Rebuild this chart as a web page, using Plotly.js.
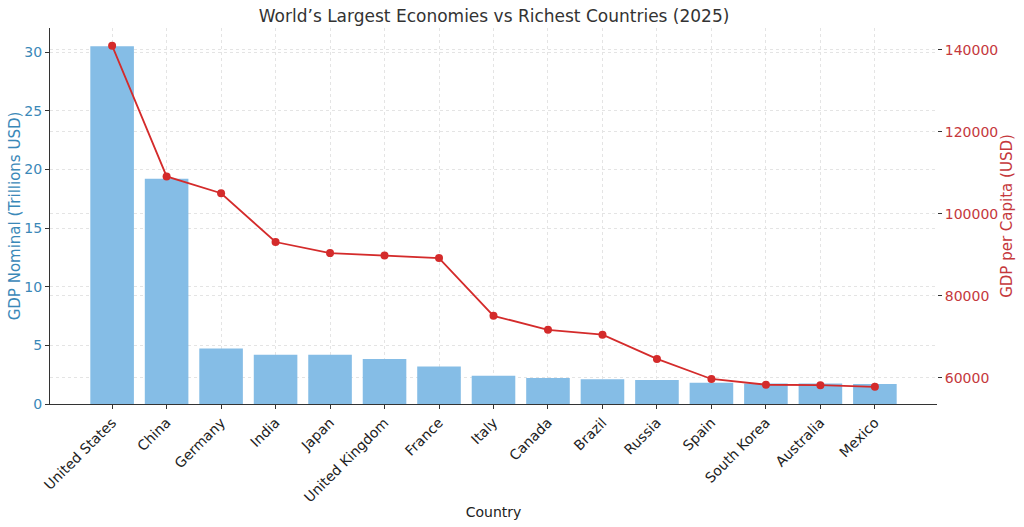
<!DOCTYPE html>
<html>
<head>
<meta charset="utf-8">
<script src="https://cdn.plot.ly/plotly-3.0.1.min.js"></script>
<style>
  body { margin: 0; background: #fff; }
  #chart { width: 1024px; height: 527px; }
</style>
</head>
<body>
<div id="chart"></div>
<script>
  // 2025 figures
  var countries = ["United States", "China", "Germany", "India", "Japan",
    "United Kingdom", "France", "Italy", "Canada", "Brazil", "Russia",
    "Spain", "South Korea", "Australia", "Mexico"];
  var gdpNominal = [30.5, 19.2, 4.74, 4.19, 4.19, 3.84, 3.2, 2.4, 2.22, 2.1, 2.05, 1.82, 1.75, 1.75, 1.7];
  var gdpPerCapita = [141000, 109100, 105000, 93100, 90400, 89800, 89200, 75100,
    71700, 70500, 64600, 59700, 58300, 58200, 57800];

  var barColor = "#85bde6";
  var lineColor = "#d42b2b";
  var leftColor = "#3a88b8";
  var rightColor = "#c5383c";

  var data = [
    {
      type: "bar",
      x: countries,
      y: gdpNominal,
      marker: { color: barColor },
      width: 0.8,
      name: "GDP Nominal",
    },
    {
      type: "scatter",
      mode: "lines+markers",
      x: countries,
      y: gdpPerCapita,
      yaxis: "y2",
      line: { color: lineColor, width: 1.8 },
      marker: { color: lineColor, size: 8 },
      name: "GDP per Capita",
    },
  ];

  var gridStyle = { showgrid: true, gridcolor: "#e4e4e4", griddash: "dot", gridwidth: 1 };

  var layout = {
    width: 1024,
    height: 527,
    showlegend: false,
    paper_bgcolor: "#fff",
    plot_bgcolor: "#fff",
    font: { family: "DejaVu Sans, sans-serif", size: 14, color: "#222" },
    margin: { l: 50, r: 87, t: 28, b: 123, pad: 0 },
    title: {
      text: "World’s Largest Economies vs Richest Countries (2025)",
      font: { size: 17, color: "#333" },
      x: 0.4825, xanchor: "center", y: 0.97, yanchor: "middle",
    },
    xaxis: Object.assign({}, gridStyle, {
      range: [-1.14, 15.14],
      tickangle: -45,
      ticks: "outside",
      ticklen: 4,
      tickcolor: "#333",
      showline: true,
      linecolor: "#333",
      linewidth: 1,
      tickfont: { size: 14, color: "#222" },
      title: { text: "Country", font: { size: 14, color: "#222" }, standoff: 2 },
    }),
    yaxis: Object.assign({}, gridStyle, {
      range: [0, 32.05],
      dtick: 5,
      ticks: "outside",
      ticklen: 4,
      tickcolor: "#333",
      showline: true,
      linecolor: "#333",
      linewidth: 1,
      zeroline: false,
      tickfont: { size: 14, color: leftColor },
      title: { text: "GDP Nominal (Trillions USD)", font: { size: 15, color: leftColor }, standoff: 0 },
    }),
    yaxis2: Object.assign({}, gridStyle, {
      overlaying: "y",
      side: "right",
      range: [53600, 145300],
      dtick: 20000,
      tickformat: "d",
      ticks: "outside",
      ticklen: 4,
      tickcolor: "#333",
      showline: false,
      zeroline: false,
      tickfont: { size: 14, color: rightColor },
      title: { text: "GDP per Capita (USD)", font: { size: 15, color: rightColor }, standoff: 4 },
    }),
  };

  Plotly.newPlot("chart", data, layout, { displayModeBar: false, staticPlot: true });
</script>
</body>
</html>
